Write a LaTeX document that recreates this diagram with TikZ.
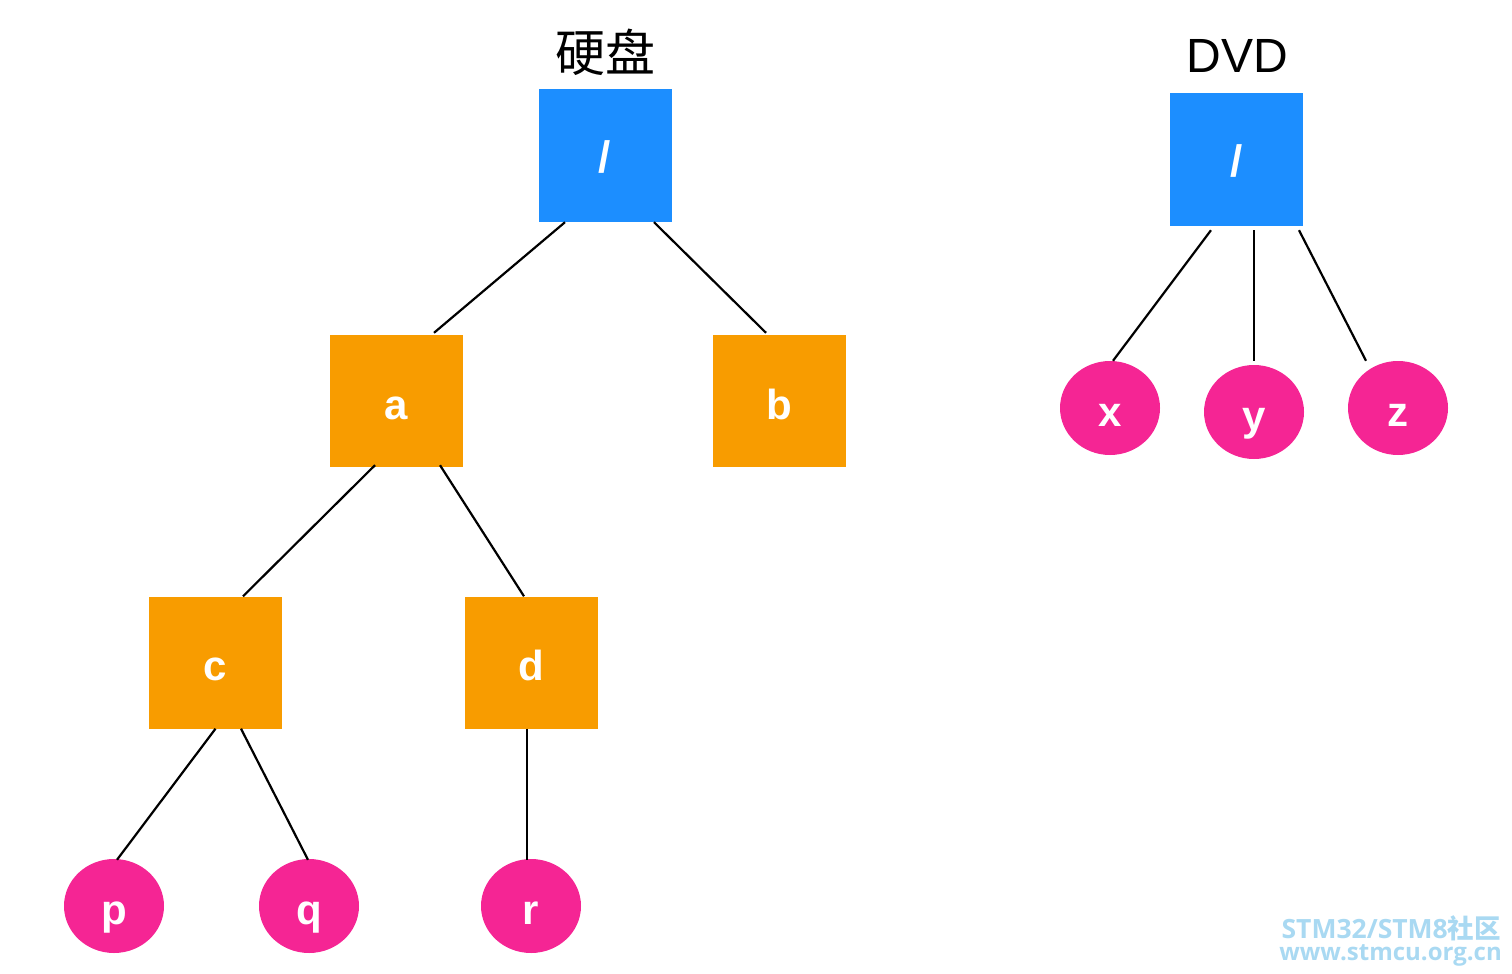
\documentclass[tikz,border=0pt]{standalone}
\usepackage{fontspec}
\usetikzlibrary{shapes.geometric}
\newfontfamily\hv{Liberation Sans}
\newfontfamily\cjk{Noto Sans CJK SC}
\newfontfamily\wm{Open Sans}
\definecolor{rootblue}{HTML}{1C8EFF}
\definecolor{dirorange}{HTML}{F89C00}
\definecolor{filepink}{HTML}{F52594}
\definecolor{wmblue}{HTML}{A9D9F2}
\begin{document}
\begin{tikzpicture}[x=1pt,y=-1pt,
  rootbox/.style={rectangle,fill=rootblue,minimum width=133pt,minimum height=133pt,inner sep=0pt,text=white,text height=33pt,text depth=0pt,font=\hv\bfseries\fontsize{44}{50}\selectfont},
  dirbox/.style={rectangle,fill=dirorange,minimum width=133pt,minimum height=132pt,inner sep=0pt,text=white,text height=36pt,text depth=0pt,font=\hv\bfseries\fontsize{42}{48}\selectfont},
  filenode/.style={ellipse,fill=filepink,minimum width=100pt,minimum height=94pt,inner sep=0pt,text=white,text height=36pt,text depth=0pt,font=\hv\bfseries\fontsize{42}{48}\selectfont},
  edge/.style={draw=black,line width=2.2pt},
  title/.style={inner sep=0pt}]
\useasboundingbox (0,0) rectangle (1512,974);
% titles
\node[title,font=\cjk\fontsize{50}{56}\selectfont] (t1) at (605,52) {硬盘};
\node[title,font=\hv\fontsize{48}{54}\selectfont] (t2) at (1237,56) {DVD};
% tree 1
\node[rootbox] (r1) at (605,155.5) {/};
\node[dirbox] (a) at (396.5,401) {a};
\node[dirbox] (b) at (779.5,401) {b};
\node[dirbox] (c) at (215.5,662.5) {c};
\node[dirbox] (d) at (531,662.5) {d};
\node[filenode] (p) at (114,906) {p};
\node[filenode] (q) at (309,906) {q};
\node[filenode] (r) at (531,906) {r};
% tree 2
\node[rootbox] (r2) at (1236.5,159.5) {/};
\node[filenode] (x) at (1110,408) {x};
\node[filenode] (y) at (1254,412) {y};
\node[filenode] (z) at (1398,408) {z};
% edges
\draw[edge] ([xshift=-40pt]r1.south) -- ([xshift=37.5pt,yshift=2pt]a.north);
\draw[edge] ([xshift=49pt]r1.south) -- ([xshift=-13.5pt,yshift=2pt]b.north);
\draw[edge] ([xshift=-21.5pt,yshift=2pt]a.south) -- ([xshift=27.5pt]c.north);
\draw[edge] ([xshift=43.5pt,yshift=2pt]a.south) -- ([xshift=-7pt]d.north);
\draw[edge] (c.south) -- ([xshift=3pt,yshift=-1pt]p.north);
\draw[edge] ([xshift=25.5pt]c.south) -- ([xshift=-1pt,yshift=-1pt]q.north);
\draw[edge] ([xshift=-4pt]d.south) -- ([xshift=-4pt,yshift=-1pt]r.north);
\draw[edge] ([xshift=-25.5pt,yshift=-4pt]r2.south) -- ([xshift=3pt]x.north);
\draw[edge] ([xshift=17.5pt,yshift=-4pt]r2.south) -- ([yshift=4pt]y.north);
\draw[edge] ([xshift=62.5pt,yshift=-4pt]r2.south) -- ([xshift=-32pt]z.north);
% watermark
\node[title,anchor=base east,text=wmblue,font=\wm\bfseries\fontsize{26.5}{28}\selectfont] (w1) at (1501,938) {STM32/STM8{\cjk\bfseries 社区}};
\node[title,anchor=base east,text=wmblue,font=\wm\bfseries\fontsize{24}{28}\selectfont] (w2) at (1502,960) {www.stmcu.org.cn};
\end{tikzpicture}
\end{document}
